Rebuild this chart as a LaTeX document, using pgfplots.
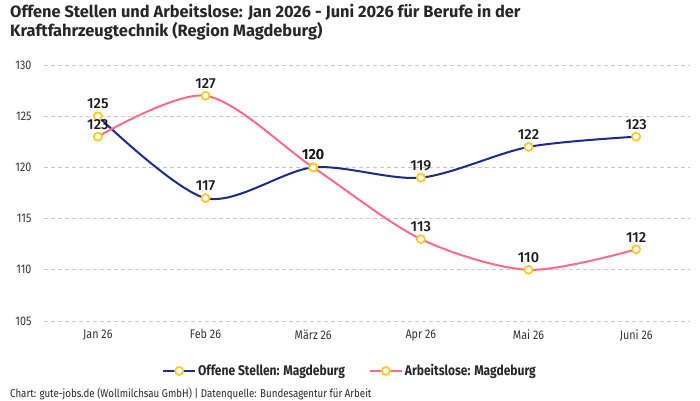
\documentclass[border=0pt]{standalone}
\usepackage{fontspec}
\usepackage{pgfplots}
\pgfplotsset{compat=1.18}
\setmainfont{Fira Sans}
\newfontfamily\cond[FakeStretch=0.86]{Fira Sans}
\newfontfamily\labelfont{Fira Sans Medium}

\definecolor{navyline}{HTML}{1B2A8C}
\definecolor{pinkline}{HTML}{FF6B85}
\definecolor{markgold}{HTML}{FFC72C}
\definecolor{gridgray}{HTML}{C8C8C8}

\begin{document}
\begin{tikzpicture}
\useasboundingbox (0pt,0pt) rectangle (700pt,400pt);

\node[anchor=north west, align=left, inner sep=0pt, text=black!85,
      font=\bfseries\fontsize{16.4}{19}\selectfont] at (10pt,396pt)
  {Offene Stellen und Arbeitslose: Jan 2026 - Juni 2026 für Berufe in der\\
   Kraftfahrzeugtechnik (Region Magdeburg)};

\begin{axis}[
  at={(44pt,79pt)}, anchor=south west,
  scale only axis, width=646pt, height=256pt,
  xmin=-0.5, xmax=5.5, ymin=105, ymax=130,
  xtick={0,1,2,3,4,5},
  xticklabels={Jan 26,Feb 26,März 26,Apr 26,Mai 26,Juni 26},
  ytick={105,110,115,120,125,130},
  axis line style={draw=none}, major tick length=0pt,
  ymajorgrids,
  grid style={gridgray, line width=0.7pt, dash pattern=on 4pt off 3pt},
  /pgf/number format/assume math mode=true,
  tick label style={font=\cond\fontsize{12.5}{14}\selectfont, text=black!80},
  yticklabel style={xshift=-9pt},
  xticklabel style={yshift=-5pt},
  clip=false,
  every axis plot/.append style={line width=2pt, smooth, tension=0.5,
    mark=*, mark size=4pt,
    mark options={fill=white, draw=markgold, line width=1.8pt, solid}},
  nodes near coords,
  nodes near coords style={font=\labelfont\fontsize{14.5}{16}\selectfont,
    text=black!90, anchor=south, yshift=3pt},
  legend columns=2,
  legend style={at={(axis description cs:0.4737,-0.195)}, anchor=center,
    draw=none, fill=none, font=\cond\bfseries\fontsize{14}{16}\selectfont,
    text=black!85,
    /tikz/every even column/.append style={column sep=22pt}},
  legend image code/.code={
    \draw[#1, mark repeat=2, mark phase=2]
      plot coordinates {(0pt,0pt) (16pt,0pt) (32pt,0pt)};
  },
]
\addplot[navyline] coordinates {
  (0,125) (1,117) (2,120) (3,119) (4,122) (5,123)
};
\addlegendentry{Offene Stellen: Magdeburg}
\addplot[pinkline] coordinates {
  (0,123) (1,127) (2,120) (3,113) (4,110) (5,112)
};
\addlegendentry{Arbeitslose: Magdeburg}
\end{axis}

\node[anchor=base west, inner sep=0pt, text=black!85,
      font=\cond\fontsize{11.3}{13}\selectfont] at (10pt,3pt)
  {Chart: gute-jobs.de (Wollmilchsau GmbH) | Datenquelle: Bundesagentur für Arbeit};
\end{tikzpicture}
\end{document}
